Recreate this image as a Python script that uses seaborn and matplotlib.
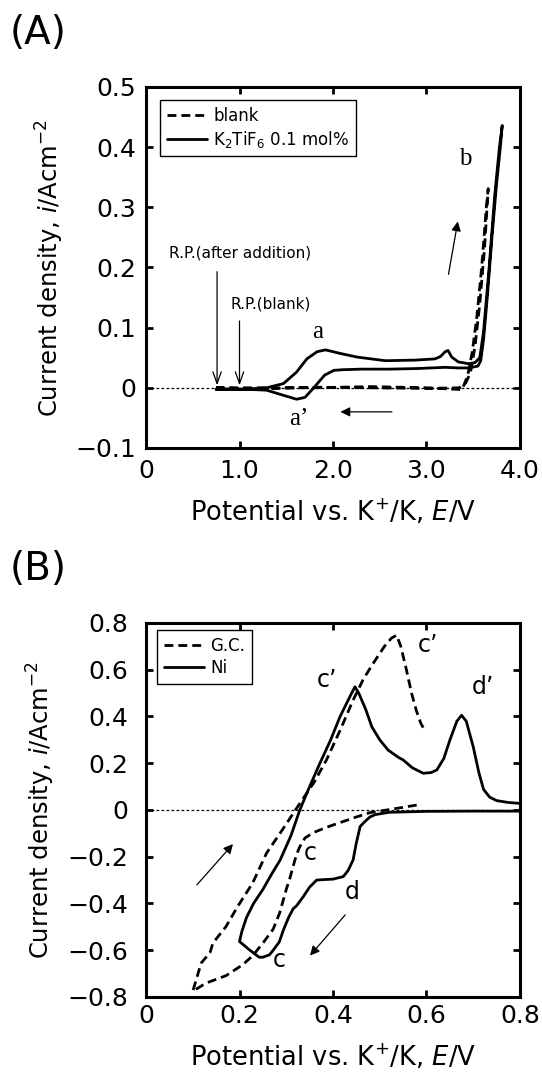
import matplotlib
matplotlib.use("Agg")
import matplotlib.pyplot as plt
import seaborn as sns
import pandas as pd

# ---- data ------------------------------------------------------------------
# (A) CV with / without K2TiF6
blank_E = [0.75, 1.2, 1.8, 2.4, 3.0, 3.35, 3.42, 3.47, 3.52, 3.57, 3.62, 3.66,
           3.64, 3.59, 3.54, 3.49, 3.44, 3.38, 3.0, 2.4, 1.8, 1.2, 0.75]
blank_i = [0.0, -0.002, 0.001, 0.0, -0.001, 0.0, 0.008, 0.025, 0.07, 0.14, 0.23, 0.331,
           0.30, 0.20, 0.12, 0.06, 0.02, -0.003, 0.0, 0.002, 0.0, 0.0, 0.0]

tif_E = [0.75, 1.0, 1.29, 1.47, 1.61, 1.72, 1.83, 1.92, 2.08, 2.26, 2.56, 2.88, 3.09,
         3.15, 3.2, 3.23, 3.27, 3.34, 3.45, 3.52, 3.57, 3.61, 3.67, 3.73, 3.78, 3.81,
         3.79, 3.75, 3.70, 3.65, 3.61, 3.58, 3.55, 3.45, 3.34, 3.2, 2.9, 2.6, 2.3, 2.1,
         2.01, 1.91, 1.8, 1.7, 1.61, 1.48, 1.29, 1.0, 0.75]
tif_i = [-0.003, -0.003, 0.0, 0.007, 0.026, 0.048, 0.060, 0.063, 0.057, 0.051, 0.045,
         0.046, 0.048, 0.052, 0.060, 0.062, 0.051, 0.043, 0.040, 0.042, 0.05, 0.093,
         0.2, 0.32, 0.40, 0.436,
         0.40, 0.34, 0.25, 0.15, 0.08, 0.045, 0.036, 0.033, 0.033, 0.034, 0.032, 0.031,
         0.031, 0.030, 0.029, 0.021, 0.001, -0.016, -0.019, -0.013, -0.004, -0.002, -0.002]

# (B) G.C. vs Ni electrode
gc_E = [0.579, 0.54, 0.50, 0.48, 0.45, 0.415, 0.385, 0.358, 0.34, 0.329, 0.322, 0.315,
        0.308, 0.30, 0.286, 0.272, 0.251, 0.228, 0.207, 0.171, 0.128, 0.1,
        0.118, 0.137, 0.143, 0.171, 0.196, 0.228, 0.258, 0.29, 0.329, 0.36, 0.386,
        0.415, 0.443, 0.465, 0.486, 0.51, 0.525, 0.536, 0.545, 0.557, 0.568, 0.578,
        0.588, 0.597]
gc_i = [0.021, 0.008, -0.005, -0.011, -0.03, -0.054, -0.075, -0.097, -0.12, -0.157,
        -0.19, -0.239, -0.29, -0.34, -0.44, -0.51, -0.567, -0.624, -0.662, -0.709,
        -0.741, -0.776,
        -0.655, -0.61, -0.57, -0.499, -0.413, -0.313, -0.184, -0.09, 0.028, 0.12, 0.214,
        0.34, 0.47, 0.56, 0.627, 0.70, 0.735, 0.748, 0.70, 0.60, 0.50, 0.427, 0.37, 0.338]

ni_E = [0.8, 0.7, 0.6, 0.52, 0.49, 0.479, 0.468, 0.458, 0.45, 0.443, 0.432, 0.422, 0.40,
        0.38, 0.365, 0.35, 0.336, 0.322, 0.315, 0.305, 0.294, 0.285, 0.272, 0.264, 0.25,
        0.242, 0.221, 0.2,
        0.205, 0.215, 0.23, 0.25, 0.27, 0.287, 0.31, 0.329, 0.35, 0.372, 0.395, 0.415,
        0.43, 0.44, 0.447, 0.455, 0.47, 0.483, 0.5, 0.518, 0.54, 0.55, 0.57, 0.593,
        0.61, 0.622, 0.637, 0.65, 0.665, 0.675, 0.685, 0.70, 0.712, 0.722, 0.735, 0.75,
        0.775, 0.8]
ni_i = [-0.005, -0.005, -0.006, -0.01, -0.02, -0.03, -0.05, -0.071, -0.14, -0.214, -0.26,
        -0.285, -0.296, -0.298, -0.300, -0.33, -0.372, -0.41, -0.422, -0.46, -0.513,
        -0.565, -0.60, -0.62, -0.63, -0.63, -0.598, -0.563,
        -0.52, -0.46, -0.40, -0.34, -0.27, -0.214, -0.11, 0.0, 0.10, 0.2, 0.30, 0.399,
        0.46, 0.50, 0.527, 0.50, 0.43, 0.356, 0.30, 0.256, 0.225, 0.214, 0.18, 0.157,
        0.16, 0.171, 0.22, 0.299, 0.38, 0.405, 0.38, 0.27, 0.16, 0.088, 0.055, 0.04,
        0.032, 0.028]

a_xticks = [0, 1, 2, 3, 4]
a_xlabels = ["0", "1.0", "2.0", "3.0", "4.0"]
a_yticks = [-0.1, 0, 0.1, 0.2, 0.3, 0.4, 0.5]
a_ylabels = ["\u22120.1", "0", "0.1", "0.2", "0.3", "0.4", "0.5"]
b_xticks = [0, 0.2, 0.4, 0.6, 0.8]
b_xlabels = ["0", "0.2", "0.4", "0.6", "0.8"]
b_yticks = [-0.8, -0.6, -0.4, -0.2, 0, 0.2, 0.4, 0.6, 0.8]
b_ylabels = ["\u22120.8", "\u22120.6", "\u22120.4", "\u22120.2", "0", "0.2", "0.4", "0.6", "0.8"]

sns.set_theme(style="ticks")
plt.rcParams.update({"font.family": "DejaVu Sans", "mathtext.fontset": "dejavusans",
                     "axes.linewidth": 2.2, "axes.edgecolor": "black",
                     "text.color": "black", "axes.labelcolor": "black",
                     "xtick.color": "black", "ytick.color": "black"})

fig = plt.figure(figsize=(5.42, 10.75), dpi=100)
axA = fig.add_axes([0.2694, 0.5833, 0.69, 0.3358])
axB = fig.add_axes([0.2694, 0.0726, 0.69, 0.3479])

DASH = (3.2, 1.8)
XLAB = r"Potential vs. K$^{+}$/K, $E$/V"
YLAB = r"Current density, $i$/Acm$^{-2}$"


def style_axes(ax, xt, xl, yt, yl, ypad, xpad, xlab_y):
    ax.set_xticks(xt)
    ax.set_xticklabels(xl)
    ax.set_yticks(yt)
    ax.set_yticklabels(yl)
    ax.tick_params(direction="in", length=5, width=2, top=True, right=True,
                   labelsize=18, colors="black")
    ax.tick_params(axis="y", pad=ypad)
    ax.tick_params(axis="x", pad=xpad)
    ax.set_xlabel(XLAB, fontsize=18.5)
    ax.xaxis.set_label_coords(0.5, xlab_y)
    ax.set_ylabel(YLAB, fontsize=17.5, labelpad=7)
    for s in ax.spines.values():
        s.set_visible(True)
        s.set_linewidth(2.2)


def box_legend(ax, anchor):
    leg = ax.legend(loc="upper left", bbox_to_anchor=anchor, borderaxespad=0,
                    fontsize=12, frameon=True, fancybox=False, edgecolor="black",
                    framealpha=1, handlelength=2.4, labelspacing=0.25, borderpad=0.4,
                    handletextpad=0.4)
    leg.get_frame().set_linewidth(1.0)


# ---- (A) --------------------------------------------------------------------
dfA_blank = pd.DataFrame({"E": blank_E, "i": blank_i})
dfA_tif = pd.DataFrame({"E": tif_E, "i": tif_i})
axA.axhline(0, color="black", lw=0.9, ls=(0, (2.2, 1.8)), zorder=1)
sns.lineplot(data=dfA_blank, x="E", y="i", sort=False, estimator=None, ax=axA,
             color="black", lw=2.0, dashes=DASH, label="blank")
sns.lineplot(data=dfA_tif, x="E", y="i", sort=False, estimator=None, ax=axA,
             color="black", lw=2.0, label=r"K$_2$TiF$_6$ 0.1 mol%")
axA.set_xlim(0, 4)
axA.set_ylim(-0.1, 0.5)
style_axes(axA, a_xticks, a_xlabels, a_yticks, a_ylabels, ypad=7, xpad=8, xlab_y=-0.138)
box_legend(axA, (0.037, 0.964))

open_head = dict(arrowstyle="->,head_length=0.7,head_width=0.25", color="black",
                 lw=0.9, shrinkA=0, shrinkB=0)
filled = dict(arrowstyle="-|>", color="black", lw=0.9, mutation_scale=14)
axA.text(1.005, 0.224, "R.P.(after addition)", fontsize=11, ha="center", va="center")
axA.annotate("", xy=(0.76, 0.004), xytext=(0.76, 0.193), arrowprops=open_head)
axA.text(1.337, 0.14, "R.P.(blank)", fontsize=11, ha="center", va="center")
axA.annotate("", xy=(1.0, 0.004), xytext=(1.0, 0.111), arrowprops=open_head)
axA.text(1.84, 0.093, "a", fontsize=18, family="Liberation Serif", ha="center", va="center")
axA.text(1.63, -0.052, "a\u2019", fontsize=18, family="Liberation Serif", ha="center", va="center")
axA.text(3.41, 0.38, "b", fontsize=18, family="Liberation Serif", ha="center", va="center")
axA.annotate("", xy=(2.05, -0.04), xytext=(2.66, -0.04), arrowprops=filled)
axA.annotate("", xy=(3.34, 0.281), xytext=(3.23, 0.184), arrowprops=filled)

# ---- (B) --------------------------------------------------------------------
dfB_gc = pd.DataFrame({"E": gc_E, "i": gc_i})
dfB_ni = pd.DataFrame({"E": ni_E, "i": ni_i})
axB.axhline(0, color="black", lw=0.9, ls=(0, (2.2, 1.8)), zorder=1)
sns.lineplot(data=dfB_gc, x="E", y="i", sort=False, estimator=None, ax=axB,
             color="black", lw=2.0, dashes=DASH, label="G.C.")
sns.lineplot(data=dfB_ni, x="E", y="i", sort=False, estimator=None, ax=axB,
             color="black", lw=2.0, label="Ni")
axB.set_xlim(0, 0.8)
axB.set_ylim(-0.8, 0.8)
style_axes(axB, b_xticks, b_xlabels, b_yticks, b_ylabels, ypad=13, xpad=5, xlab_y=-0.123)
box_legend(axB, (0.029, 0.981))

for (x, y, s) in [(0.387, 0.556, "c\u2019"), (0.603, 0.705, "c\u2019"),
                  (0.72, 0.526, "d\u2019"), (0.351, -0.184, "c"),
                  (0.44, -0.35, "d"), (0.285, -0.641, "c")]:
    axB.text(x, y, s, fontsize=17, ha="center", va="center")
axB.annotate("", xy=(0.19, -0.137), xytext=(0.105, -0.329), arrowprops=filled)
axB.annotate("", xy=(0.347, -0.632), xytext=(0.43, -0.44), arrowprops=filled)

fig.text(0.018, 0.969, "(A)", fontsize=28, ha="left", va="center")
fig.text(0.018, 0.4707, "(B)", fontsize=28, ha="left", va="center")

fig.savefig("out.png", dpi=100)
